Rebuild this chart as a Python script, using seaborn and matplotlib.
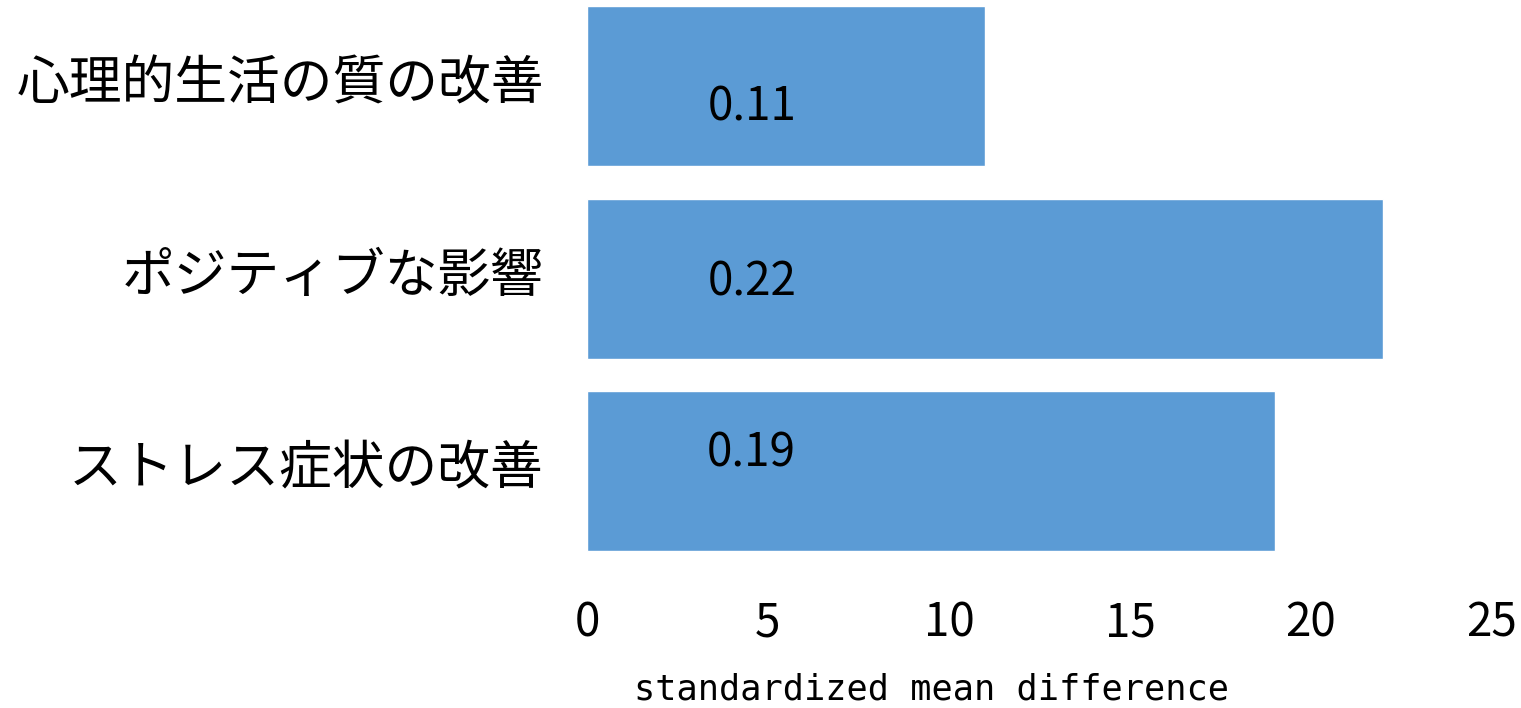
import pandas as pd
import matplotlib
matplotlib.use('Agg')
import matplotlib.pyplot as plt
from matplotlib.transforms import ScaledTranslation
import seaborn as sns

# chart values (effect sizes shown as x100 on the axis)
categories = ['心理的生活の質の改善', 'ポジティブな影響', 'ストレス症状の改善']
values = [11, 22, 19]
bar_labels = ['0.11', '0.22', '0.19']
x_ticks = [0, 5, 10, 15, 20, 25]

sns.set_theme(style='white')
plt.rcParams['font.family'] = ['Noto Sans CJK JP', 'DejaVu Sans']
plt.rcParams['text.color'] = 'black'
plt.rcParams['xtick.color'] = 'black'
plt.rcParams['ytick.color'] = 'black'
plt.rcParams['axes.labelcolor'] = 'black'

df = pd.DataFrame({'category': categories, 'value': values})

fig = plt.figure(figsize=(15.21, 7.08), dpi=100)
ax = fig.add_axes([587 / 1521, 1 - 582 / 708, (1492 - 587) / 1521, 582 / 708])

sns.barplot(data=df, x='value', y='category', orient='h', color='#5B9BD5',
            saturation=1, width=0.833, ax=ax)

# value labels inside the bars (labels sit a bit off-centre in the original)
label_shift = [0.11, 0.02, -0.09]
for i, lab in enumerate(bar_labels):
    ax.text(4.55, i + label_shift[i], lab, ha='center', va='center', fontsize=33,
            color='black')

ax.set_xlim(0, 25)
ax.set_ylim(2.58, -0.45)
ax.set_xticks(x_ticks)
ax.set_xticklabels([str(t) for t in x_ticks], fontsize=33)
ax.tick_params(axis='x', length=0, pad=12)
ax.tick_params(axis='y', length=0, pad=31)
up = ScaledTranslation(0, 8 / 100, fig.dpi_scale_trans)
for lab in ax.get_yticklabels():
    lab.set_fontsize(38)
    lab.set_transform(lab.get_transform() + up)
ax.set_ylabel('')
ax.set_xlabel('standardized mean difference', fontsize=25.4,
              family=['DejaVu Sans Mono'], labelpad=12)
ax.xaxis.set_label_coords((931 - 587) / 905, -0.155)
sns.despine(ax=ax, left=True, bottom=True)

fig.savefig('out.png', dpi=100)
